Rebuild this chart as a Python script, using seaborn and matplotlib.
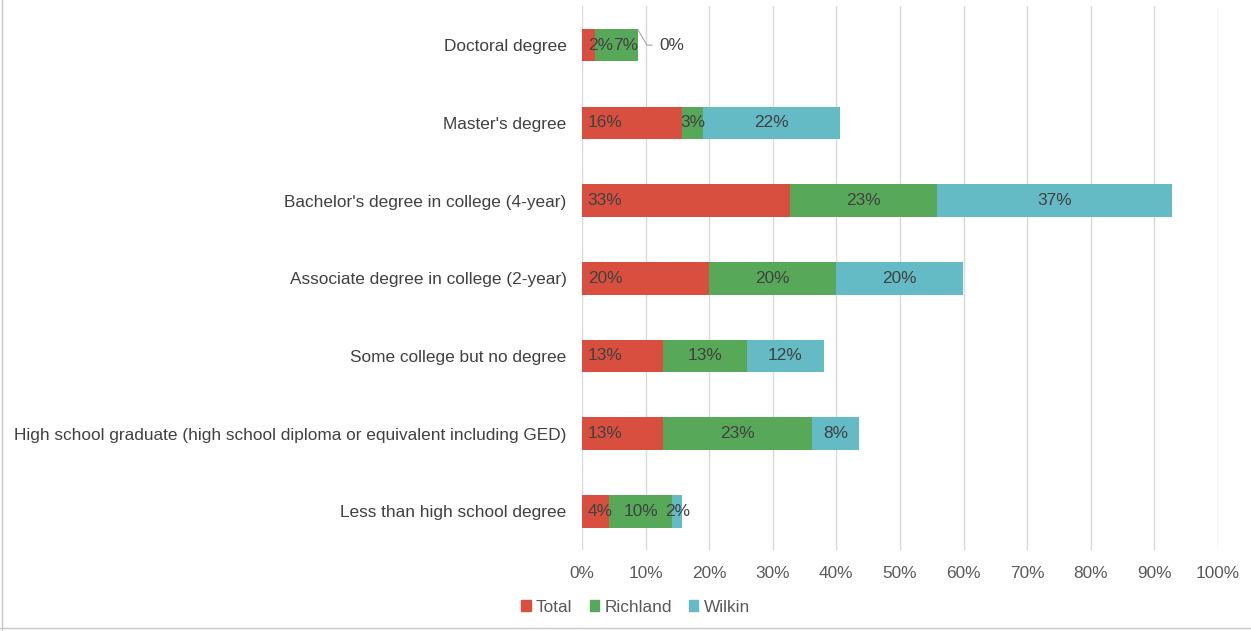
import numpy as np
import pandas as pd
import matplotlib.pyplot as plt
import seaborn as sns
from matplotlib.lines import Line2D

# data (percent)
categories = ["Doctoral degree",
              "Master's degree",
              "Bachelor's degree in college (4-year)",
              "Associate degree in college (2-year)",
              "Some college but no degree",
              "High school graduate (high school diploma or equivalent including GED)",
              "Less than high school degree"]
total = [2.1, 15.8, 32.7, 19.9, 12.7, 12.7, 4.2]
richland = [6.7, 3.3, 23.1, 20.0, 13.3, 23.4, 10.0]
wilkin = [0.0, 21.5, 36.9, 20.0, 12.0, 7.5, 1.6]
series = ["Total", "Richland", "Wilkin"]
colors = ["#D94F3F", "#57A959", "#64BBC6"]

df = pd.DataFrame({"cat": categories, "Total": total,
                   "Richland": richland, "Wilkin": wilkin})
df["c1"] = df["Total"]
df["c2"] = df["Total"] + df["Richland"]
df["c3"] = df["c2"] + df["Wilkin"]

sns.set_style("white")
plt.rcParams["font.family"] = ["Liberation Sans", "DejaVu Sans"]

fig = plt.figure(figsize=(12.51, 6.31), dpi=100)
ax = fig.add_axes([0.4652, 0.128, 0.5084, 0.862])

# stacked bars: draw cumulative sums from longest to shortest
for col, c in zip(["c3", "c2", "c1"], colors[::-1]):
    sns.barplot(data=df, x=col, y="cat", color=c, width=0.42,
                saturation=1, linewidth=0, ax=ax, zorder=2)

ax.set_xlim(0, 100)
ax.set_ylim(6.5, -0.5)
ax.set_xticks(np.arange(0, 101, 10))
ax.set_xticklabels([f"{v}%" for v in range(0, 101, 10)])
ax.xaxis.grid(True, color="#D9D9D9", linewidth=1, zorder=0)
ax.set_axisbelow(True)
for s in ax.spines.values():
    s.set_visible(False)
ax.set_xlabel("")
ax.set_ylabel("")
ax.tick_params(axis="x", length=0, labelsize=12.4, labelcolor="#595959", pad=11)
ax.tick_params(axis="y", length=0, labelsize=12.4, labelcolor="#404040", pad=11)

# segment labels: Total at inside base, the others centred
starts = [np.zeros(len(categories)), df["c1"].values, df["c2"].values]
for name, st in zip(series, starts):
    vals = df[name].values
    for i, (s, v) in enumerate(zip(st, vals)):
        if v <= 0:
            continue
        lab = f"{v:.0f}%"
        if name == "Total":
            ax.text(s + 0.9, i, lab, ha="left", va="center",
                    fontsize=12.4, color="#404040", zorder=5)
        elif v < 8 and s < 5:
            # too narrow: push to the end of the segment
            ax.text(s + v, i, lab, ha="right", va="center",
                    fontsize=12.4, color="#404040", zorder=5)
        else:
            ax.text(s + v / 2, i, lab, ha="center", va="center",
                    fontsize=12.4, color="#404040", zorder=5)

# zero label with leader line
x0 = df["c3"].values[0]
ax.annotate("0%", xy=(x0, -0.2), xytext=(x0 + 3.4, 0), ha="left", va="center",
            fontsize=12.4, color="#404040",
            arrowprops=dict(arrowstyle="-", color="#A6A6A6", lw=0.8,
                            connectionstyle="angle,angleA=0,angleB=-60,rad=0",
                            shrinkA=3, shrinkB=0))

handles = [plt.Rectangle((0, 0), 1, 1, color=c) for c in colors]
fig.legend(handles, series, loc="center", bbox_to_anchor=(0.508, 0.038),
           ncol=3, frameon=False, fontsize=12.4, handlelength=0.55,
           handleheight=0.55, handletextpad=0.3, columnspacing=1.0,
           labelcolor="#595959")

# thin outer border like the source
fig.add_artist(Line2D([0.0016, 0.0016], [0, 1], color="#C8C8C8", lw=1,
                      transform=fig.transFigure))
fig.add_artist(Line2D([0, 1], [0.004, 0.004], color="#C8C8C8", lw=1,
                      transform=fig.transFigure))

fig.savefig("out.png", dpi=100)
